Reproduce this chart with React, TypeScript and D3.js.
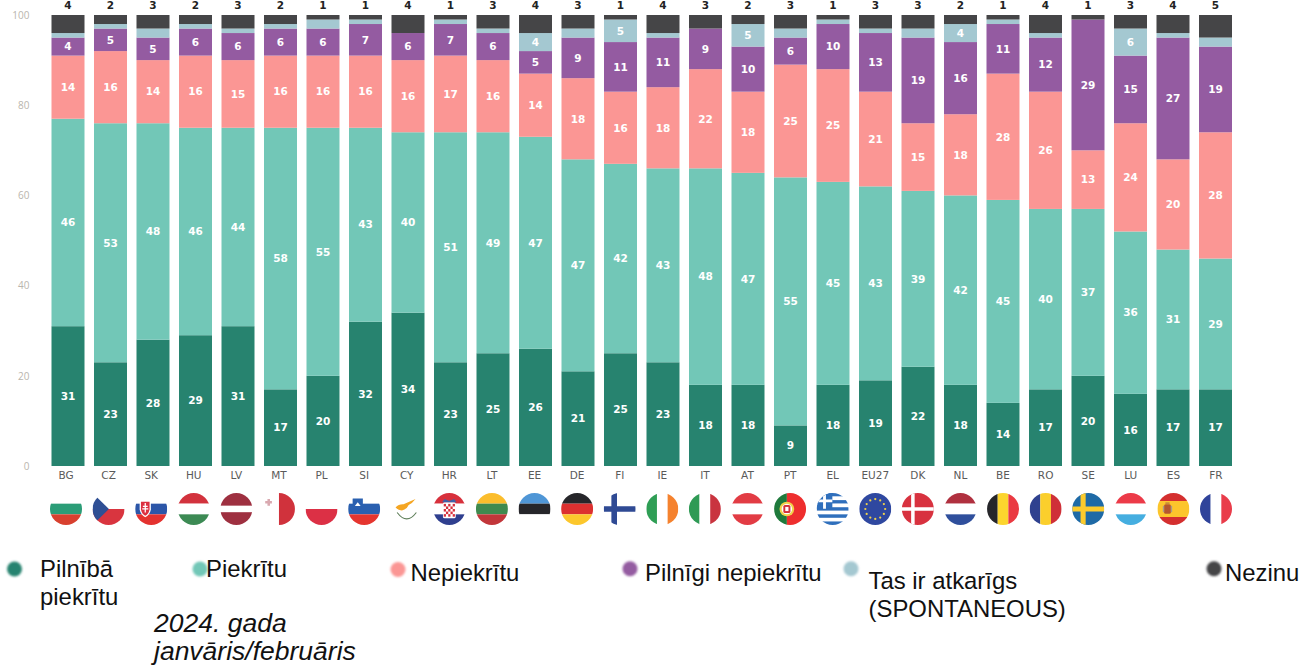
import React, { useEffect, useRef } from "react";
import * as d3 from "d3";

const countries = ["BG", "CZ", "SK", "HU", "LV", "MT", "PL", "SI", "CY", "HR", "LT", "EE", "DE", "FI", "IE", "IT", "AT", "PT", "EL", "EU27", "DK", "NL", "BE", "RO", "SE", "LU", "ES", "FR"];

// survey answers, bottom to top of the stack
const fullyAgree = [31, 23, 28, 29, 31, 17, 20, 32, 34, 23, 25, 26, 21, 25, 23, 18, 18, 9, 18, 19, 22, 18, 14, 17, 20, 16, 17, 17];
const agree = [46, 53, 48, 46, 44, 58, 55, 43, 40, 51, 49, 47, 47, 42, 43, 48, 47, 55, 45, 43, 39, 42, 45, 40, 37, 36, 31, 29];
const disagree = [14, 16, 14, 16, 15, 16, 16, 16, 16, 17, 16, 14, 18, 16, 18, 22, 18, 25, 25, 21, 15, 18, 28, 26, 13, 24, 20, 28];
const fullyDisagree = [4, 5, 5, 6, 6, 6, 6, 7, 6, 7, 6, 5, 9, 11, 11, 9, 10, 6, 10, 13, 19, 16, 11, 12, 29, 15, 27, 19];
const depends = [1, 1, 2, 1, 1, 1, 2, 1, 0, 1, 1, 4, 2, 5, 1, 0, 5, 2, 1, 1, 2, 4, 1, 1, 0, 6, 1, 2];
const dontKnow = [4, 2, 3, 2, 3, 2, 1, 1, 4, 1, 3, 4, 3, 1, 4, 3, 2, 3, 1, 3, 3, 2, 1, 4, 1, 3, 4, 5];

const seriesKeys = ["fullyAgree", "agree", "disagree", "fullyDisagree", "depends", "dontKnow"];
const seriesValues = [fullyAgree, agree, disagree, fullyDisagree, depends, dontKnow];
const seriesColors = ["#27836f", "#72c7b7", "#fb9694", "#945ba1", "#a4c8d1", "#454547"];

const yTicks = [0, 20, 40, 60, 80, 100];

// stripes of each flag: direction and colours, equal widths unless weights are given
const stripes: Record<string, [string, string[], number[]?]> = {
  BG: ["h", ["#ffffff", "#2b9d77", "#d8402f"]],
  CZ: ["h", ["#ffffff", "#d9353f"]],
  SK: ["h", ["#ffffff", "#2c56a8", "#e4322f"]],
  HU: ["h", ["#d2323d", "#ffffff", "#3c8a54"]],
  LV: ["h", ["#9e3040", "#ffffff", "#9e3040"], [2, 1, 2]],
  MT: ["v", ["#ffffff", "#d0323c"]],
  PL: ["h", ["#ffffff", "#dc3045"]],
  SI: ["h", ["#ffffff", "#2a60b0", "#e5352f"]],
  CY: ["h", ["#ffffff"]],
  HR: ["h", ["#d7303c", "#ffffff", "#2f3f8f"]],
  LT: ["h", ["#fbbd2c", "#3f8a4f", "#c2363a"]],
  EE: ["h", ["#4f96d6", "#26262a", "#ffffff"]],
  DE: ["h", ["#26262a", "#dc3030", "#fcc72c"]],
  FI: ["h", ["#ffffff"]],
  IE: ["v", ["#2f9e55", "#ffffff", "#f5822e"]],
  IT: ["v", ["#2f9a55", "#ffffff", "#c9343f"]],
  AT: ["h", ["#e23c44", "#ffffff", "#e23c44"]],
  PT: ["v", ["#1f7a3c", "#ee2e2e"], [2, 3]],
  EL: ["h", ["#2f6fbc", "#ffffff", "#2f6fbc", "#ffffff", "#2f6fbc", "#ffffff", "#2f6fbc", "#ffffff", "#2f6fbc"]],
  EU27: ["h", ["#2f48a0"]],
  DK: ["h", ["#d8323f"]],
  NL: ["h", ["#b0303f", "#ffffff", "#2f4f9c"]],
  BE: ["v", ["#26262a", "#fcd52e", "#ea3a42"]],
  RO: ["v", ["#2f418f", "#fbcf2c", "#cf3038"]],
  SE: ["h", ["#1e6aa6"]],
  LU: ["h", ["#ec3a48", "#ffffff", "#45aee0"]],
  ES: ["h", ["#d42f2f", "#fcc52c", "#d42f2f"], [1, 2, 1]],
  FR: ["v", ["#2f439a", "#ffffff", "#e93c4a"]],
};

const legendDots = [
  { color: seriesColors[0], x: 14.5, y: 569 },
  { color: seriesColors[1], x: 200, y: 569 },
  { color: seriesColors[2], x: 398, y: 569.5 },
  { color: seriesColors[3], x: 630, y: 568.7 },
  { color: seriesColors[4], x: 851, y: 568.7 },
  { color: seriesColors[5], x: 1214, y: 568.7 },
];
const legendTexts = [
  { x: 40, y: 576.5, text: "Pilnībā" },
  { x: 40, y: 604.5, text: "piekrītu" },
  { x: 206, y: 576.5, text: "Piekrītu" },
  { x: 410.5, y: 581, text: "Nepiekrītu" },
  { x: 645, y: 581, text: "Pilnīgi nepiekrītu" },
  { x: 868.5, y: 589, text: "Tas ir atkarīgs" },
  { x: 868.5, y: 617, text: "(SPONTANEOUS)" },
  { x: 1225, y: 581, text: "Nezinu" },
];
const noteLines = [
  { x: 154, y: 632, text: "2024. gada" },
  { x: 154, y: 660, text: "janvāris/februāris" },
];

// the small details on top of the stripes, drawn in a unit circle
const Emblem = ({ code }: { code: string }) => {
  switch (code) {
    case "CZ":
      return <path d="M-1,-1L0.02,0L-1,1Z" fill="#2f4f94" />;
    case "SK":
      return (
        <g>
          <path d="M-0.72,-0.52H-0.02V0.05Q-0.1,0.4 -0.37,0.52Q-0.64,0.4 -0.72,0.05Z" fill="#ffffff" />
          <path d="M-0.64,-0.46H-0.1V0.03Q-0.16,0.32 -0.37,0.42Q-0.58,0.32 -0.64,0.03Z" fill="#dc3040" />
          <path d="M-0.41,-0.38H-0.33V0.22H-0.41ZM-0.52,-0.2H-0.22V-0.13H-0.52ZM-0.56,-0.04H-0.18V0.03H-0.56Z" fill="#ffffff" />
        </g>
      );
    case "MT":
      return <path d="M-0.72,-0.62H-0.56V-0.5H-0.44V-0.34H-0.56V-0.2H-0.72V-0.34H-0.86V-0.5H-0.72Z" fill="#d9a9b0" />;
    case "SI":
      return (
        <g>
          <path d="M-0.72,-0.65H-0.08V-0.2Q-0.16,0.02 -0.4,0.08Q-0.64,0.02 -0.72,-0.2Z" fill="#2a60b0" />
          <path d="M-0.4,-0.42L-0.22,-0.18H-0.58Z" fill="#ffffff" />
        </g>
      );
    case "CY":
      return (
        <g>
          <path d="M-0.7,-0.1Q-0.5,-0.32 -0.2,-0.3Q0.1,-0.42 0.55,-0.62Q0.35,-0.35 0.12,-0.25Q0.02,0 -0.25,0.08Q-0.5,0.12 -0.7,-0.1Z" fill="#f5a623" />
          <path d="M-0.6,0.22Q-0.3,0.62 0,0.62M0.6,0.22Q0.3,0.62 0,0.62" fill="none" stroke="#5f7f5a" strokeWidth={0.07} />
        </g>
      );
    case "HR":
      return (
        <g>
          <rect x={-0.4} y={-0.42} width={0.8} height={1} rx={0.1} fill="#ffffff" />
          {d3.range(5).flatMap((r) =>
            d3.range(5).map((c) =>
              (r + c) % 2 === 0 ? (
                <rect key={`${r}-${c}`} x={-0.35 + c * 0.14} y={-0.32 + r * 0.16} width={0.14} height={0.16} fill="#d7303c" />
              ) : null
            )
          )}
          <path d="M-0.45,-0.42L-0.3,-0.62L0,-0.5L0.3,-0.62L0.45,-0.42Z" fill="#3f62a8" />
        </g>
      );
    case "FI":
      return <path d="M-0.52,-1H-0.17V-0.17H1V0.17H-0.17V1H-0.52V0.17H-1V-0.17H-0.52Z" fill="#2f4a94" />;
    case "PT":
      return (
        <g>
          <circle cx={-0.2} cy={0} r={0.46} fill="#f2d24a" />
          <circle cx={-0.2} cy={0} r={0.33} fill="#ffffff" />
          <rect x={-0.42} y={-0.25} width={0.44} height={0.5} rx={0.1} fill="#d5303a" />
          <rect x={-0.3} y={-0.13} width={0.2} height={0.26} fill="#ffffff" />
        </g>
      );
    case "EL":
      return (
        <g>
          <rect x={-1} y={-1} width={0.98} height={0.98} fill="#2f6fbc" />
          <path d="M-0.6,-1H-0.42V-0.02H-0.6ZM-1,-0.6H-0.02V-0.42H-1Z" fill="#ffffff" />
        </g>
      );
    case "EU27":
      return (
        <g>
          {d3.range(12).map((i) => (
            <circle
              key={i}
              cx={0.62 * Math.cos((i * Math.PI) / 6)}
              cy={0.62 * Math.sin((i * Math.PI) / 6)}
              r={0.07}
              fill="#f2d34a"
            />
          ))}
        </g>
      );
    case "DK":
      return <path d="M-0.42,-1H-0.2V-0.11H1V0.11H-0.2V1H-0.42V0.11H-1V-0.11H-0.42Z" fill="#ffffff" />;
    case "SE":
      return <path d="M-0.48,-1H-0.16V-0.16H1V0.16H-0.16V1H-0.48V0.16H-1V-0.16H-0.48Z" fill="#fccb2c" />;
    case "ES":
      return (
        <g>
          <rect x={-0.58} y={-0.3} width={0.42} height={0.6} rx={0.1} fill="#b5562f" />
          <rect x={-0.66} y={-0.2} width={0.08} height={0.4} fill="#a89a8a" />
          <rect x={-0.16} y={-0.2} width={0.08} height={0.4} fill="#a89a8a" />
          <rect x={-0.5} y={-0.42} width={0.26} height={0.12} fill="#c98b3a" />
        </g>
      );
    default:
      return null;
  }
};

const Flag = ({ code, cx, cy, r }: { code: string; cx: number; cy: number; r: number }) => {
  const [dir, colors, weights] = stripes[code];
  const w = weights || colors.map(() => 1);
  const total = d3.sum(w);
  const pos = d3.scaleLinear().domain([0, total]).range([-1, 1]);
  const edges = [0, ...d3.cumsum(w)];
  return (
    <g transform={`translate(${cx},${cy}) scale(${r})`} clipPath="url(#flagClip)">
      {colors.map((color, i) => {
        const a = pos(edges[i]);
        const size = pos(edges[i + 1]) - a;
        return dir === "h" ? (
          <rect key={i} x={-1} y={a} width={2} height={size} fill={color} />
        ) : (
          <rect key={i} x={a} y={-1} width={size} height={2} fill={color} />
        );
      })}
      <Emblem code={code} />
    </g>
  );
};

export default function App() {
  const chartRef = useRef<SVGGElement>(null);

  const x = d3.scaleBand<string>().domain(countries).range([51.5, 1232]).paddingInner(0.2235);
  // the flags and country codes sit slightly off the bars
  const labelX = d3.scalePoint<string>().domain(countries).range([66, 1216]);
  const y = d3.scaleLinear().domain([0, 100]).range([466, 15]);

  useEffect(() => {
    const g = d3.select(chartRef.current);
    g.selectChildren().remove();

    const rows = countries.map((c, i) => {
      const row: Record<string, any> = { country: c };
      seriesKeys.forEach((k, s) => (row[k] = seriesValues[s][i]));
      return row;
    });
    const stacked = d3.stack().keys(seriesKeys)(rows as any);

    // bars
    const layers = g
      .selectAll("g.layer")
      .data(stacked)
      .enter()
      .append("g")
      .attr("class", "layer")
      .attr("fill", (_, i) => seriesColors[i]);

    layers
      .selectAll("rect")
      .data((d) => d.map((e) => ({ e, country: (e.data as any).country })))
      .enter()
      .append("rect")
      .attr("x", (d) => x(d.country)!)
      .attr("width", x.bandwidth())
      .attr("y", (d) => y(d.e[1]))
      .attr("height", (d) => y(d.e[0]) - y(d.e[1]));

    // value labels, the small "depends" segments stay unlabelled
    layers
      .filter((_, i) => i < 5)
      .selectAll("text")
      .data((d) => d.map((e) => ({ e, country: (e.data as any).country })).filter((d) => d.e[1] - d.e[0] >= 4))
      .enter()
      .append("text")
      .attr("x", (d) => x(d.country)! + x.bandwidth() / 2)
      .attr("y", (d) => y((d.e[0] + d.e[1]) / 2))
      .attr("dy", "0.36em")
      .attr("text-anchor", "middle")
      .attr("fill", "#ffffff")
      .attr("font-family", "DejaVu Sans")
      .attr("font-weight", "bold")
      .attr("font-size", 10.5)
      .text((d) => d.e[1] - d.e[0]);

    // "don't know" goes above the bar
    g.append("g")
      .selectAll("text")
      .data(countries)
      .enter()
      .append("text")
      .attr("x", (d) => x(d)! + x.bandwidth() / 2)
      .attr("y", 9)
      .attr("text-anchor", "middle")
      .attr("fill", "#222222")
      .attr("font-family", "DejaVu Sans")
      .attr("font-weight", "bold")
      .attr("font-size", 10.5)
      .text((_, i) => dontKnow[i]);

    // y axis, labels only
    const axis = g
      .append("g")
      .attr("transform", "translate(29.5,0)")
      .call(d3.axisLeft(y).tickValues(yTicks).tickSize(0).tickPadding(0));
    axis.select(".domain").remove();
    axis
      .selectAll("text")
      .attr("fill", "#b9b5ad")
      .attr("font-family", "Open Sans")
      .attr("font-size", 10);
  }, []);

  return (
    <svg
      width={1300}
      height={666}
      style={{ position: "absolute", left: 0, top: 0, display: "block", background: "#ffffff" }}
    >
      <defs>
        <clipPath id="flagClip">
          <circle r={1} />
        </clipPath>
        <filter id="soft" x="-50%" y="-50%" width="200%" height="200%">
          <feGaussianBlur stdDeviation={0.9} />
        </filter>
      </defs>

      <g ref={chartRef} />

      {countries.map((c) => (
        <text
          key={c}
          x={labelX(c)}
          y={479}
          textAnchor="middle"
          fill="#5a5a5a"
          fontFamily="DejaVu Sans"
          fontSize={10.5}
        >
          {c}
        </text>
      ))}

      {countries.map((c) => (
        <Flag key={c} code={c} cx={labelX(c)!} cy={509} r={16} />
      ))}

      {legendDots.map((d, i) => (
        <circle key={i} cx={d.x} cy={d.y} r={7.5} fill={d.color} filter="url(#soft)" />
      ))}
      {legendTexts.map((d, i) => (
        <text key={i} x={d.x} y={d.y} fontFamily="Liberation Sans" fontSize={23.9} fill="#111111">
          {d.text}
        </text>
      ))}
      {noteLines.map((d, i) => (
        <text key={i} x={d.x} y={d.y} fontFamily="Liberation Sans" fontStyle="italic" fontSize={26.5} fill="#111111">
          {d.text}
        </text>
      ))}
    </svg>
  );
}
